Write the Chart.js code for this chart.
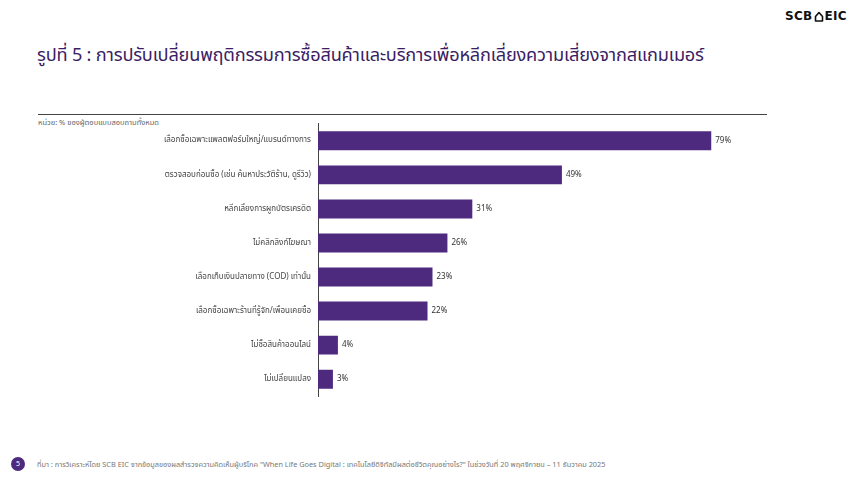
<!DOCTYPE html>
<html lang="th">
<head>
<meta charset="utf-8">
<script src="https://cdn.jsdelivr.net/npm/chart.js@4.4.1/dist/chart.umd.min.js"></script>
<style>
  html, body { margin: 0; padding: 0; background: #fff; }
  body { width: 860px; height: 484px; position: relative; overflow: hidden;
         font-family: "Noto Sans Thai", "Noto Sans", "DejaVu Sans", sans-serif; }
  .logo { position: absolute; left: 785px; top: 9px; font: bold 12px "DejaVu Sans", sans-serif;
          color: #111; letter-spacing: 0.3px; display: flex; align-items: center; }
  .logo svg { margin: 0 1px; }
  .title { position: absolute; left: 37px; top: 42px; font-size: 18.2px; color: #3b1d63;
           white-space: nowrap; letter-spacing: -0.2px; }
  .rule { position: absolute; left: 38px; top: 114px; width: 729px; height: 1px; background: #444; }
  .unit { position: absolute; left: 38px; top: 117px; font-size: 7.5px; color: #666; white-space: nowrap; }
  .chart { position: absolute; left: 0; top: 112px; width: 860px; height: 296px; }
  .page { position: absolute; left: 11px; top: 457px; width: 14px; height: 14px; border-radius: 50%;
          background: #4e2a7e; color: #fff; font-size: 7px; text-align: center; line-height: 14px; }
  .source { position: absolute; left: 37px; top: 459px; font-size: 7.35px; color: #777; white-space: nowrap; }
</style>
</head>
<body>
<div class="logo">SCB<svg width="10" height="11" viewBox="0 0 10 11"><path d="M1.5 10 L1.5 5.5 L5 1.5 L8.5 5.5 L8.5 10 Z" fill="none" stroke="#111" stroke-width="1.6" stroke-linejoin="round"/></svg>EIC</div>
<div class="title">รูปที่ 5 : การปรับเปลี่ยนพฤติกรรมการซื้อสินค้าและบริการเพื่อหลีกเลี่ยงความเสี่ยงจากสแกมเมอร์</div>
<div class="rule"></div>
<div class="unit">หน่วย: % ของผู้ตอบแบบสอบถามทั้งหมด</div>
<div class="chart"><canvas id="behaviourChart"></canvas></div>
<div class="page">5</div>
<div class="source">ที่มา : การวิเคราะห์โดย SCB EIC จากข้อมูลของผลสำรวจความคิดเห็นผู้บริโภค "When Life Goes Digital : เทคโนโลยีดิจิทัลมีผลต่อชีวิตคุณอย่างไร?" ในช่วงวันที่ 20 พฤศจิกายน – 11 ธันวาคม 2025</div>

<script>
// Survey answers (categories) and share of respondents (%)
const categories = [
  "เลือกซื้อเฉพาะแพลตฟอร์มใหญ่/แบรนด์ทางการ",
  "ตรวจสอบก่อนซื้อ (เช่น ค้นหาประวัติร้าน, ดูรีวิว)",
  "หลีกเลี่ยงการผูกบัตรเครดิต",
  "ไม่คลิกลิงก์โฆษณา",
  "เลือกเก็บเงินปลายทาง (COD) เท่านั้น",
  "เลือกซื้อเฉพาะร้านที่รู้จัก/เพื่อนเคยซื้อ",
  "ไม่ซื้อสินค้าออนไลน์",
  "ไม่เปลี่ยนแปลง"
];
const shares = [79, 49, 31, 26, 23, 22, 4, 3];

// Draw "xx%" at the end of each bar
const valueLabels = {
  id: 'valueLabels',
  afterDatasetsDraw(chart) {
    const ctx = chart.ctx;
    const meta = chart.getDatasetMeta(0);
    ctx.save();
    ctx.font = '8px "Noto Sans", "DejaVu Sans", sans-serif';
    ctx.fillStyle = '#333';
    ctx.textBaseline = 'middle';
    meta.data.forEach((bar, i) => {
      ctx.fillText(shares[i] + '%', bar.x + 4, bar.y);
    });
    ctx.restore();
  }
};

const ctx = document.getElementById('behaviourChart').getContext('2d');
const behaviourChart = new Chart(ctx, {
  type: 'bar',
  data: {
    labels: categories,
    datasets: [{
      data: shares,
      backgroundColor: '#4e2a7e',
      borderWidth: 0,
      barPercentage: 0.9,
      categoryPercentage: 0.62
    }]
  },
  options: {
    indexAxis: 'y',
    responsive: true,
    maintainAspectRatio: false,
    animation: false,
    layout: { padding: { left: 0, right: 94, top: 0, bottom: 0 } },
    plugins: {
      legend: { display: false },
      tooltip: { enabled: false }
    },
    scales: {
      x: { display: false, min: 0, max: 90 },
      y: {
        afterFit(scale) { scale.width = 318; },
        grid: { display: false, drawTicks: false },
        border: { display: true, color: '#444', width: 1 },
        ticks: {
          padding: 7,
          color: '#444',
          font: { size: 8, family: '"Noto Sans Thai", "Noto Sans", "DejaVu Sans", sans-serif' }
        }
      }
    }
  },
  plugins: [valueLabels]
});
</script>
</body>
</html>
